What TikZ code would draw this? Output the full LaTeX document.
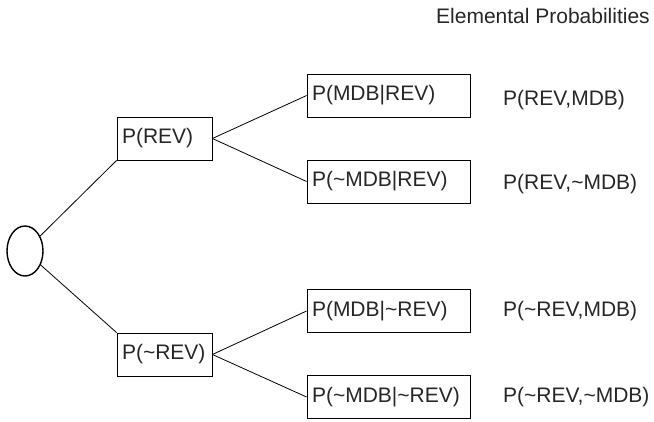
\documentclass[tikz,border=0pt]{standalone}
\usepackage{fontspec}
\setmainfont{Liberation Sans}
\usetikzlibrary{shapes.geometric}

\tikzset{
	txt/.style={font=\fontsize{21}{25}\selectfont, text=black!85},
	probbox/.style={txt, draw, line width=0.8pt, minimum height=43pt, inner xsep=5pt, inner ysep=0pt, align=left},
	joint/.style={txt, anchor=west, inner sep=0pt},
	branch/.style={line width=0.8pt}
}

\begin{document}
\begin{tikzpicture}[x=1pt, y=-1pt]
		\useasboundingbox (0,0) rectangle (654,421);

		%title
		\node[txt, anchor=east, inner sep=0pt] (title) at (650,16) {Elemental Probabilities};

		%start
		\node[ellipse, draw, line width=1.4pt, minimum width=36pt, minimum height=50pt, inner sep=0pt] (start) at (25,251) {};

		%first level
		\node[probbox, text width=85pt] (rev) at (164.5,138.5) {P(REV)};
		\node[probbox, text width=85pt] (nrev) at (164.5,354.5) {P(\textasciitilde REV)};

		%second level
		\node[probbox, text width=153pt] (mdbrev) at (388.5,95.5) {P(MDB|REV)};
		\node[probbox, text width=153pt] (nmdbrev) at (388.5,181.5) {P(\textasciitilde MDB|REV)};
		\node[probbox, text width=153pt] (mdbnrev) at (388.5,311) {P(MDB|\textasciitilde REV)};
		\node[probbox, text width=153pt] (nmdbnrev) at (388.5,397) {P(\textasciitilde MDB|\textasciitilde REV)};

		%joint
		\node[joint] (j1) at (503,100) {P(REV,MDB)};
		\node[joint] (j2) at (503,184) {P(REV,\textasciitilde MDB)};
		\node[joint] (j3) at (503,311) {P(\textasciitilde REV,MDB)};
		\node[joint] (j4) at (503,397) {P(\textasciitilde REV,\textasciitilde MDB)};

		\draw[branch] (start) -- (rev.south west);
		\draw[branch] (start) -- (nrev.north west);
		\draw[branch] (rev.east) -- (mdbrev.west);
		\draw[branch] (rev.east) -- (nmdbrev.west);
		\draw[branch] (nrev.east) -- (mdbnrev.west);
		\draw[branch] (nrev.east) -- (nmdbnrev.west);

	\end{tikzpicture}
\end{document}
